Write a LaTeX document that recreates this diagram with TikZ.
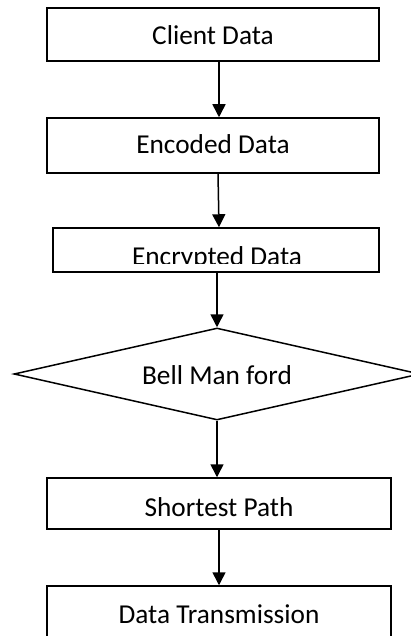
\documentclass[tikz,border=0pt]{standalone}
\usepackage{fontspec}
\setmainfont{Carlito}
\usetikzlibrary{shapes.geometric,arrows.meta}
\begin{document}
\begin{tikzpicture}[x=1pt,y=-1pt,
  box/.style={draw=black,line width=1.5pt,rectangle,inner sep=0pt},
  lbl/.style={anchor=base,inner sep=0pt,font=\fontsize{27.3}{30}\selectfont},
  arr/.style={line width=1.5pt,-{Triangle[width=13pt,length=13pt]}}]
\useasboundingbox (0,0) rectangle (411,636);
\node[box,minimum width=332pt,minimum height=53pt] (b1) at (213,34.5) {};
\node[lbl] (t1) at (213,45) {Client Data};
\node[box,minimum width=332pt,minimum height=55pt] (b2) at (213,145.5) {};
\node[lbl] (t2) at (213,154) {Encoded Data};
\node[box,minimum width=326pt,minimum height=44pt] (b3) at (216,250) {};
\begin{scope}
\clip (0,228) rectangle (411,263);
\node[lbl] (t3) at (217,265.5) {Encrypted Data};
\end{scope}
\node[draw=black,line width=1.5pt,diamond,inner sep=0pt,minimum width=406pt,minimum height=92pt] (d) at (217,374) {};
\node[lbl] (t4) at (217,384) {Bell Man ford};
\node[box,minimum width=344pt,minimum height=51pt] (b5) at (219,503.5) {};
\node[lbl] (t5) at (219,516) {Shortest Path};
\node[box,minimum width=344pt,minimum height=60pt] (b6) at (219,616) {};
\node[lbl] (t6) at (219,623) {Data Transmission};
\draw[arr] (b1.south -| 219,0) -- (b2.north -| 219,0);
\draw[arr] (b2.south -| 218,0) -- (b3.north -| 219,0);
\draw[arr] (b3.south -| 217,0) -- (d.north);
\draw[arr] (d.south) -- (b5.north -| 217,0);
\draw[arr] (b5.south -| 219,0) -- (b6.north -| 219,0);
\end{tikzpicture}
\end{document}
